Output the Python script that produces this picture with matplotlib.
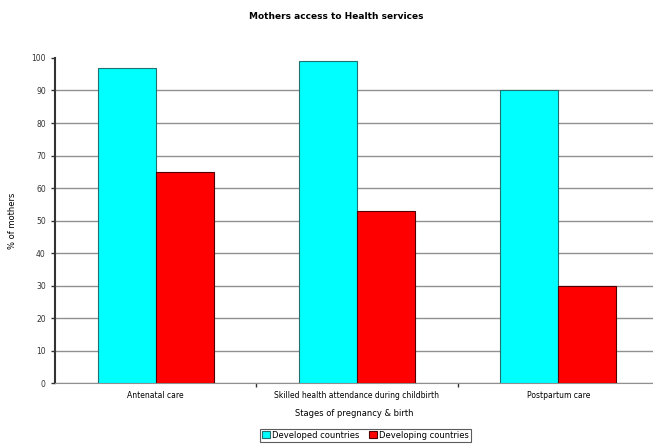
import numpy as np
import matplotlib
matplotlib.use("Agg")
import matplotlib.pyplot as plt

# Data
stages = ["Antenatal care", "Skilled health attendance during childbirth", "Postpartum care"]
developed = [97, 99, 90]
developing = [65, 53, 30]
series_names = ["Developed countries", "Developing countries"]

fig = plt.figure(figsize=(6.53, 4.46), dpi=100)
ax = fig.add_axes([0.084, 0.141, 0.916, 0.729])

x = np.arange(len(stages))
w = 0.288

ax.bar(x - w / 2, developed, width=w, color="#00ffff", edgecolor="#207070", linewidth=0.8,
       label=series_names[0], zorder=3)
ax.bar(x + w / 2, developing, width=w, color="#ff0000", edgecolor="#500000", linewidth=0.8,
       label=series_names[1], zorder=3)

ax.set_ylim(0, 100)
ax.set_xlim(-0.5, 2.47)
ax.set_yticks(np.arange(0, 101, 10))
ax.tick_params(axis="y", labelsize=5.5, length=3, width=1, colors="#333333")

# category labels centred, separator ticks between groups
ax.set_xticks(x)
ax.set_xticklabels(stages, fontsize=5.5)
ax.tick_params(axis="x", length=0, pad=6)
ax.set_xticks([0.5, 1.5], minor=True)
ax.tick_params(axis="x", which="minor", length=3, width=1, color="#333333")

ax.yaxis.grid(True, color="#909090", linewidth=1)
ax.get_ygridlines()[-1].set_visible(False)
ax.set_axisbelow(True)
for s in ["top", "right"]:
    ax.spines[s].set_visible(False)
ax.spines["left"].set_linewidth(1.5)
ax.spines["left"].set_color("#333333")
ax.spines["bottom"].set_color("#909090")

ax.set_ylabel("% of mothers", fontsize=6, labelpad=10)
ax.set_xlabel("Stages of pregnancy & birth", fontsize=6, labelpad=6)
fig.text(0.515, 0.962, "Mothers access to Health services", ha="center", va="center",
         fontsize=6.5, fontweight="bold")

leg = fig.legend(loc="center", bbox_to_anchor=(0.56, 0.024), ncol=2, fontsize=6,
                 frameon=True, fancybox=False, edgecolor="#333333",
                 handlelength=0.9, handleheight=0.9, handletextpad=0.3,
                 columnspacing=1.2, borderpad=0.25)
leg.get_frame().set_linewidth(0.8)

plt.savefig("out.png", dpi=100)
plt.close()
